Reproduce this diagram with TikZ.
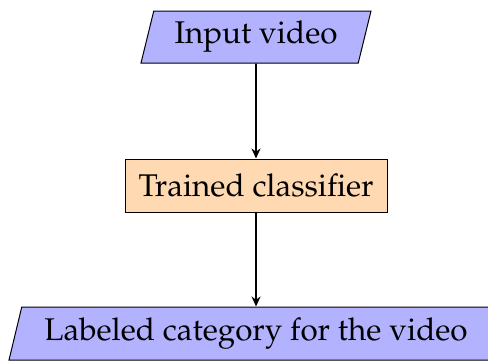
\documentclass[tikz,border=0pt]{standalone}
\usepackage[T1]{fontenc}
\usepackage{palatino}
\usetikzlibrary{shapes.geometric,arrows.meta}

\tikzset{
  flowtext/.style={font=\fontsize{15.7}{18}\selectfont, text=black},
  iobox/.style={flowtext, shape=trapezium, trapezium left angle=68,
    trapezium right angle=112, trapezium stretches body=true,
    draw=black, line width=0.5pt, fill=blue!30, inner sep=0pt,
    minimum height=26pt},
  procbox/.style={flowtext, shape=rectangle, draw=black, line width=0.5pt,
    fill=orange!30, inner sep=0pt, minimum height=26.5pt, minimum width=131pt},
  flowarrow/.style={-{Stealth[length=5pt,width=4.5pt]}, line width=0.9pt}
}

\begin{document}
\begin{tikzpicture}[x=0.5pt,y=-0.5pt]
  \useasboundingbox (0,0) rectangle (488,361);

  \node[iobox, minimum width=115pt] (input) at (256,37) {Input video};
  \node[procbox] (clf) at (256,185.5) {Trained classifier};
  \node[iobox, minimum width=247pt, minimum height=26.5pt] (out) at (256,333.5)
    {Labeled category for the video};

  \draw[flowarrow] (input.south) -- (clf.north);
  \draw[flowarrow] (clf.south) -- (out.north);
\end{tikzpicture}
\end{document}
